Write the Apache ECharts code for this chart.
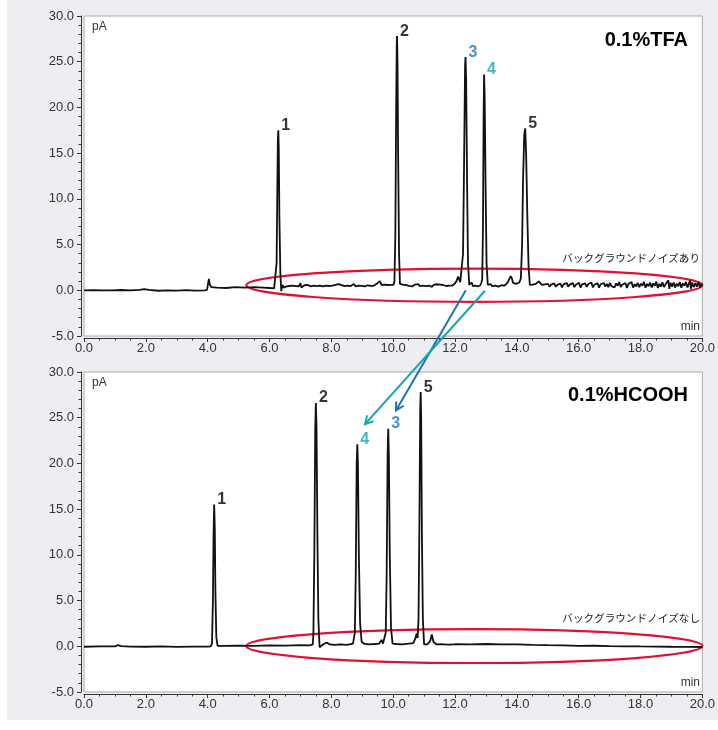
<!DOCTYPE html>
<html><head><meta charset="utf-8">
<script src="https://cdn.jsdelivr.net/npm/echarts@6/dist/echarts.min.js"></script>
<style>
html,body{margin:0;padding:0;background:#fff;}
#bg{position:absolute;left:7px;top:0;width:711px;height:720px;background:#eceef1;}
#chart{position:absolute;left:0;top:0;width:718px;height:730px;}
</style>
</head><body><div id="bg"></div><div id="chart"></div>
<script>
// ---- data ----
var xTicks = [0, 20, 2];      // min, max, interval (min)
var yTicks = [-5, 30, 5];     // min, max, interval (pA)

var tfaTrace = [
 [0,0.0],[0.3,0.02],[0.6,-0.02],[0.9,0.0],[1.2,0.03],[1.5,-0.02],[1.8,0.05],[1.95,0.12],[2.1,0.05],[2.4,-0.05],
 [2.7,0.0],[3.0,-0.04],[3.3,0.02],[3.6,-0.03],[3.9,0.0],[3.98,0.05],[4.02,0.9],[4.04,1.25],[4.07,0.6],[4.12,0.35],
 [4.3,0.3],[4.6,0.25],[4.9,0.35],[5.2,0.3],[5.5,0.35],[5.8,0.3],[6.0,0.25],[6.15,0.2],
 [6.2,0.3],[6.23,3],[6.25,10],[6.27,16.5],[6.285,17.5],[6.30,15.5],[6.32,8],[6.35,2],[6.38,-0.1],[6.42,0.6],
 [6.45,0.3],[6.5,0.5],[6.55,0.42],[6.6,0.55],[6.65,0.47],[6.7,0.4],[6.75,0.52],[6.8,0.58],[6.85,0.45],[6.9,0.5],
 [6.95,0.44],[7.0,0.78],[7.03,0.3],[7.08,0.5],[7.13,0.56],[7.18,0.46],[7.23,0.6],[7.28,0.5],[7.33,0.43],[7.38,0.57],
 [7.43,0.52],[7.48,0.62],[7.53,0.45],[7.58,0.55],[7.63,0.5],[7.68,0.64],[7.73,0.42],[7.78,0.58],[7.83,0.5],[7.88,0.6],
 [7.93,0.47],[7.98,0.66],[8.03,0.5],[8.08,0.44],[8.13,0.6],[8.18,0.52],[8.23,0.68],[8.28,0.48],[8.33,0.57],[8.38,0.75],
 [8.43,0.45],[8.48,0.58],[8.53,0.5],[8.58,0.63],[8.63,0.46],[8.68,0.55],[8.73,0.7],[8.78,0.44],[8.83,0.6],[8.88,0.52],
 [8.93,0.66],[8.98,0.48],[9.03,0.58],[9.08,0.42],[9.13,0.62],[9.18,0.55],[9.23,0.68],[9.28,0.47],[9.33,0.6],[9.38,0.52],
 [9.43,0.58],[9.48,0.75],[9.53,0.95],[9.57,1.0],[9.62,0.6],[9.67,0.5],[9.72,0.62],[9.77,0.48],[9.82,0.58],[9.87,0.52],
 [9.92,0.6],[9.97,0.5],[10.01,0.6],
 [10.04,0.9],[10.07,6],[10.095,19],[10.115,26.8],[10.125,27.8],[10.14,25],[10.16,15],[10.19,4],
 [10.22,0.7],[10.26,0.5],[10.31,0.62],[10.36,0.45],[10.41,0.58],[10.46,0.66],[10.51,0.48],[10.56,0.6],[10.61,0.42],
 [10.66,0.57],[10.71,0.63],[10.76,0.5],[10.81,0.68],[10.86,0.46],[10.91,0.6],[10.96,0.52],[11.01,0.7],[11.06,0.45],
 [11.11,0.58],[11.16,0.5],[11.21,0.64],[11.26,0.38],[11.31,0.6],[11.36,0.55],[11.41,0.66],[11.46,0.48],[11.51,0.62],
 [11.56,0.45],[11.61,0.58],[11.66,0.7],[11.71,0.47],[11.76,0.6],[11.81,0.52],[11.86,0.65],[11.91,0.5],[11.96,0.7],
 [12.01,0.8],[12.06,1.1],[12.1,1.5],[12.13,1.6],[12.17,0.9],
 [12.22,0.9],[12.26,4],[12.3,16],[12.325,24.5],[12.34,25.5],[12.36,23],[12.39,12],[12.42,3],
 [12.46,0.6],[12.5,0.5],[12.54,0.85],[12.58,0.45],[12.62,0.6],[12.66,0.5],[12.7,0.65],[12.74,0.42],[12.78,0.58],
 [12.82,0.55],[12.85,0.8],
 [12.88,1.2],[12.905,7],[12.925,19],[12.94,23.6],[12.96,21],[12.99,11],[13.02,3],
 [13.06,0.6],[13.1,0.5],[13.15,0.68],[13.2,0.45],[13.25,0.6],[13.3,0.52],[13.35,0.7],[13.4,0.4],[13.45,0.6],
 [13.5,0.55],[13.55,0.66],[13.6,0.5],[13.65,0.7],[13.7,0.85],[13.75,1.2],[13.8,1.55],[13.84,1.3],[13.88,0.8],
 [13.93,0.6],[13.98,0.7],[14.03,0.55],[14.08,0.85],
 [14.13,1.3],[14.17,5],[14.2,12],[14.24,17],[14.27,17.7],[14.3,15],[14.34,8],[14.38,2.5],
 [14.42,0.6],[14.46,0.45],[14.51,0.62],[14.56,0.5],[14.61,0.7],[14.66,0.85],[14.71,0.98],[14.76,0.9],[14.81,0.6],
 [14.86,0.5],[14.91,0.65],[14.96,0.45],[15.01,0.7],[15.06,0.4],[15.11,0.62],[15.16,0.55],[15.21,0.75],[15.26,0.38],
 [15.31,0.6],[15.36,0.5],[15.41,0.72],[15.46,0.32],[15.51,0.65],[15.56,0.55],[15.61,0.8],[15.66,0.4],[15.71,0.62],
 [15.76,0.48],[15.81,0.78],[15.86,0.35],[15.91,0.6],[15.96,0.52],[16.01,0.82],[16.06,0.3],[16.11,0.65],[16.16,0.45],
 [16.21,0.75],[16.26,0.38],[16.31,0.68],[16.36,0.5],[16.41,0.85],[16.46,0.32],[16.51,0.6],[16.56,0.55],[16.61,0.78],
 [16.66,0.28],[16.71,0.66],[16.76,0.48],[16.81,0.8],[16.86,0.4],[16.91,0.7],[16.96,0.35],[17.01,0.82],[17.06,0.45],
 [17.11,0.62],[17.16,0.3],[17.21,0.75],[17.26,0.5],[17.31,0.88],[17.36,0.35],[17.41,0.6],[17.46,0.45],[17.51,0.8],
 [17.56,0.25],[17.61,0.7],[17.66,0.5],[17.71,0.9],[17.76,0.3],[17.81,0.66],[17.86,0.42],[17.91,0.8],[17.96,0.35],
 [18.01,0.72],[18.06,0.5],[18.11,0.92],[18.16,0.28],[18.21,0.7],[18.26,0.45],[18.31,0.85],[18.36,0.3],[18.41,0.75],
 [18.46,0.5],[18.51,0.95],[18.56,0.25],[18.61,0.7],[18.66,0.4],[18.71,0.88],[18.76,0.35],[18.81,0.65],[18.86,0.5],
 [18.9,1.1],[18.93,0.15],[18.97,0.8],[19.02,0.4],[19.07,0.85],[19.12,0.3],[19.17,0.72],[19.22,0.45],[19.27,0.9],
 [19.32,0.28],[19.37,0.75],[19.42,0.5],[19.47,0.92],[19.52,0.3],[19.57,0.8],[19.6,1.05],[19.63,0.15],[19.67,0.85],
 [19.72,0.35],[19.77,0.8],[19.82,0.4],[19.87,0.9],[19.92,0.3],[19.97,0.7],[20.0,0.55]
];

var hcoohTrace = [
 [0,-0.05],[0.5,-0.02],[1.0,0.0],[1.1,0.12],[1.2,0.02],[1.5,-0.03],[2.0,-0.05],[2.5,-0.02],[3.0,-0.06],[3.5,-0.03],
 [4.0,-0.04],[4.1,0.0],
 [4.14,0.3],[4.17,5],[4.19,12],[4.21,15.5],[4.23,13],[4.25,6],[4.28,1],[4.32,0.05],
 [4.5,0.05],[5.0,0.08],[5.5,0.05],[6.0,0.1],[6.5,0.08],[7.0,0.12],[7.3,0.1],[7.4,0.2],
 [7.42,1.5],[7.45,10],[7.48,24],[7.50,26.6],[7.52,24],[7.55,12],[7.58,3],[7.62,-0.1],[7.68,0.1],[7.75,0.25],
 [7.85,0.4],[7.95,0.2],[8.1,0.15],[8.3,0.2],[8.5,0.15],[8.7,0.3],
 [8.76,1.5],[8.79,8],[8.82,20],[8.84,22.1],[8.86,20],[8.89,10],[8.93,2.5],[8.98,0.5],
 [9.05,0.3],[9.2,0.2],[9.4,0.25],[9.55,0.3],[9.62,0.7],[9.67,0.3],[9.72,0.1],
 [9.76,1.5],[9.79,8],[9.82,21],[9.84,23.8],[9.86,21],[9.89,10],[9.93,2],[9.98,0.3],
 [10.1,0.25],[10.3,0.2],[10.5,0.28],[10.65,0.35],[10.72,0.9],[10.76,1.4],[10.79,0.9],
 [10.82,3],[10.85,14],[10.875,26],[10.89,27.8],[10.905,25],[10.93,12],[10.96,3],[11.0,0.2],
 [11.1,0.2],[11.2,0.6],[11.25,1.3],[11.3,0.5],[11.4,0.2],[11.6,0.22],[11.8,0.18],[12.0,0.22],[12.5,0.2],
 [13.0,0.25],[13.5,0.2],[14.0,0.2],[14.5,0.15],[15.0,0.12],[15.5,0.1],[16.0,0.05],[16.5,0.06],[17.0,0.02],
 [17.5,0.0],[18.0,-0.02],[18.5,-0.03],[19.0,-0.05],[19.5,-0.06],[20.0,-0.08]
];

var tfaPeakNames   = ['1','2','3','4','5'];
var tfaPeakTimes   = [6.285, 10.125, 12.34, 12.94, 14.27];
var tfaPeakHeights = [17.5, 27.8, 25.5, 23.6, 17.7];

var hcoohPeakNames   = ['1','2','4','3','5'];
var hcoohPeakTimes   = [4.21, 7.50, 8.84, 9.84, 10.89];
var hcoohPeakHeights = [15.5, 26.6, 22.1, 23.8, 27.8];

var panelTitles = ['0.1%TFA', '0.1%HCOOH'];
var noiseNotes  = ['バックグラウンドノイズあり', 'バックグラウンドノイズなし'];

// ---- styles ----
var BLUE = '#1b74bd', TEAL = '#17a6a8', RED = '#e2102f', INK = '#000';
var FONT = 'Liberation Sans, Arial, sans-serif';
var peakColor = { '3': BLUE, '4': TEAL };

function xAxis(gi) {
  return {
    gridIndex: gi, type: 'value', min: xTicks[0], max: xTicks[1], interval: xTicks[2], offset: 2,
    axisLine: { onZero: false, lineStyle: { color: '#333', width: 1 } },
    axisTick: { length: 4, lineStyle: { color: '#333' } },
    minorTick: { show: true, splitNumber: 4, length: 2.5, lineStyle: { color: '#333' } },
    axisLabel: { color: '#333', fontSize: 13, fontFamily: FONT, margin: 4, formatter: function (v) { return v.toFixed(1); } },
    splitLine: { show: false }
  };
}
function yAxis(gi) {
  return {
    gridIndex: gi, type: 'value', min: yTicks[0], max: yTicks[1], interval: yTicks[2], offset: 3,
    axisLine: { show: true, onZero: false, lineStyle: { color: '#333', width: 1 } },
    axisTick: { show: true, length: 4, lineStyle: { color: '#333' } },
    minorTick: { show: true, splitNumber: 5, length: 2.5, lineStyle: { color: '#333' } },
    axisLabel: { color: '#333', fontSize: 13, fontFamily: FONT, margin: 7, formatter: function (v) { return v.toFixed(1); } },
    splitLine: { show: false }
  };
}
function labelSeries(gi, names, times, heights) {
  return {
    type: 'scatter', xAxisIndex: gi, yAxisIndex: gi, symbolSize: 0, silent: true, z: 5,
    data: names.map(function (n, i) {
      return { name: n, value: [times[i], heights[i]], label: { color: peakColor[n] || INK } };
    }),
    label: { show: true, position: 'right', distance: 3, offset: [0, -5], formatter: '{b}',
             fontSize: 16, fontWeight: 'bold', fontFamily: FONT }
  };
}
function traceSeries(gi, data) {
  return { type: 'line', xAxisIndex: gi, yAxisIndex: gi, data: data, showSymbol: false, z: 3,
           lineStyle: { color: '#111', width: 1.8 }, silent: true };
}

var chart = echarts.init(document.getElementById('chart'), null, { renderer: 'canvas' });
var gridBase = { left: 84, width: 623, height: 320, show: true, backgroundColor: '#fff', borderColor: '#aaa', borderWidth: 1 };
chart.setOption({
  animation: false,
  grid: [Object.assign({ top: 16 }, gridBase), Object.assign({ top: 372 }, gridBase)],
  xAxis: [xAxis(0), xAxis(1)],
  yAxis: [yAxis(0), yAxis(1)],
  series: [
    traceSeries(0, tfaTrace), traceSeries(1, hcoohTrace),
    labelSeries(0, tfaPeakNames, tfaPeakTimes, tfaPeakHeights),
    labelSeries(1, hcoohPeakNames, hcoohPeakTimes, hcoohPeakHeights)
  ]
});

// ---- annotations (positions given in data coordinates, converted by the chart) ----
function px(gi, p) { return chart.convertToPixel({ gridIndex: gi }, p); }
function ellipse(gi, t0, t1, v0, v1) {
  var a = px(gi, [t0, v1]), b = px(gi, [t1, v0]);
  return { type: 'ellipse', z: 1, silent: true,
    shape: { cx: (a[0] + b[0]) / 2, cy: (a[1] + b[1]) / 2, rx: (b[0] - a[0]) / 2, ry: (b[1] - a[1]) / 2 },
    style: { fill: null, stroke: RED, lineWidth: 2.2 } };
}
function arrow(from, to, color) {
  var s = px(0, from), e = px(1, to);
  var dx = e[0] - s[0], dy = e[1] - s[1], L = Math.sqrt(dx * dx + dy * dy);
  var ux = dx / L, uy = dy / L, h = 9, ang = 0.5;
  function rot(a) { var c = Math.cos(a), sn = Math.sin(a); return [ux * c - uy * sn, ux * sn + uy * c]; }
  var r1 = rot(ang), r2 = rot(-ang);
  return [
    { type: 'line', z: 10, silent: true, shape: { x1: s[0], y1: s[1], x2: e[0], y2: e[1] }, style: { stroke: color, lineWidth: 2 } },
    { type: 'polyline', z: 10, silent: true,
      shape: { points: [[e[0] - h * r1[0], e[1] - h * r1[1]], e, [e[0] - h * r2[0], e[1] - h * r2[1]]] },
      style: { stroke: color, lineWidth: 2, fill: null } }
  ];
}
function txt(x, y, text, opt) {
  return { type: 'text', x: x, y: y, z: 20, silent: true,
    style: Object.assign({ text: text, fill: INK, fontFamily: FONT, verticalAlign: 'middle' }, opt) };
}

var g = [];
g.push(ellipse(0, 5.25, 20.0, -1.27, 2.38));
g.push(ellipse(1, 5.25, 20.0, -1.83, 1.87));
g = g.concat(arrow([12.35, 0.0], [10.09, 25.8], BLUE));
g = g.concat(arrow([12.97, -0.05], [9.09, 24.3], TEAL));
[[0, 40, 27, 327, 258], [1, 395, 383, 683, 618]].forEach(function (r) {
  var i = r[0];
  g.push(txt(688, r[1], panelTitles[i], { fontSize: 20, fontWeight: 'bold', align: 'right' }));
  g.push(txt(92, r[2], 'pA', { fontSize: 12, fill: '#333', align: 'left' }));
  g.push(txt(700, r[3], 'min', { fontSize: 12, fill: '#333', align: 'right' }));
  g.push(txt(700, r[4], noiseNotes[i], { fontSize: 10.6, fill: '#222', align: 'right', fontFamily: 'Noto Sans CJK JP' }));
});
chart.setOption({ graphic: g });
</script></body></html>
